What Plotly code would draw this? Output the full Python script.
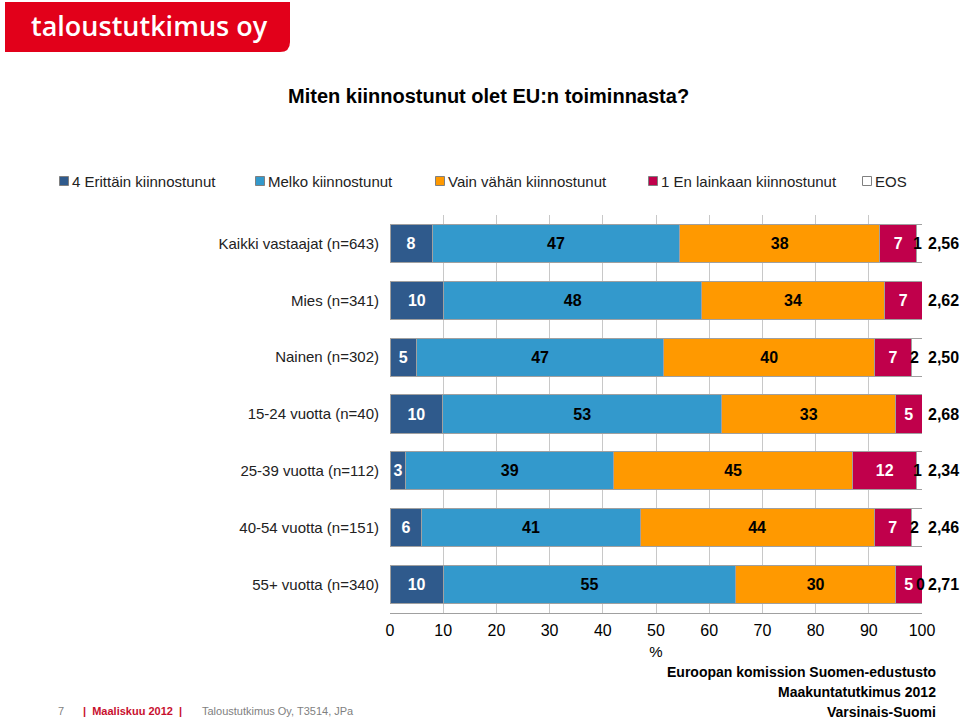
import plotly.graph_objects as go

categories = ["Kaikki vastaajat (n=643)", "Mies (n=341)", "Nainen (n=302)",
              "15-24 vuotta (n=40)", "25-39 vuotta (n=112)", "40-54 vuotta (n=151)",
              "55+ vuotta (n=340)"]
series_names = ["4 Erittäin kiinnostunut", "Melko kiinnostunut", "Vain vähän kiinnostunut",
                "1 En lainkaan kiinnostunut", "EOS"]
erittain = [8, 10, 5, 10, 3, 6, 10]
melko = [47, 48, 47, 53, 39, 41, 55]
vain_vahan = [38, 34, 40, 33, 45, 44, 30]
ei_lainkaan = [7, 7, 7, 5, 12, 7, 5]
eos = [1, None, 2, None, 1, 2, 0]
means = ["2,56", "2,62", "2,50", "2,68", "2,34", "2,46", "2,71"]
x_ticks = [0, 10, 20, 30, 40, 50, 60, 70, 80, 90, 100]

colors = ["#2f5a8c", "#3399cc", "#ff9900", "#c0004b", "#ffffff"]
text_colors = ["white", "black", "black", "white", "black"]
FONT = "Arial, Liberation Sans, sans-serif"

# plot area in pixels
L, R, T, B = 390, 922, 215, 613
W, H = 960, 721


def px(x):
    return (x - L) / (R - L)


def py(y):
    return (B - y) / (B - T)


fig = go.Figure()
all_series = [erittain, melko, vain_vahan, ei_lainkaan, eos]
for i, (name, vals) in enumerate(zip(series_names, all_series)):
    show_text = i < 4
    fig.add_trace(go.Bar(
        name=name, y=categories, x=vals, orientation="h",
        marker=dict(color=colors[i], line=dict(color="#a0a0a0", width=1)),
        text=[str(v) if v is not None else "" for v in vals] if show_text else None,
        texttemplate="<b>%{text}</b>" if show_text else None,
        textposition="inside" if show_text else "none",
        insidetextanchor="middle",
        textfont=dict(family=FONT, size=16, color=text_colors[i]),
        hoverinfo="skip", showlegend=False,
    ))

annotations = []
shapes = []
# EOS labels
for k, cat in enumerate(categories):
    if eos[k] is None:
        continue
    vals = [s[k] or 0 for s in all_series]
    total = sum(vals)
    pos = (sum(vals[:4]) + vals[4] / 2) / total * 100
    annotations.append(dict(x=pos, y=cat, xref="x", yref="y", text="<b>" + str(eos[k]) + "</b>",
                            showarrow=False, xanchor="center", xshift=-2,
                            font=dict(family=FONT, size=16, color="black")))
# mean values
for k, cat in enumerate(categories):
    annotations.append(dict(x=1, y=cat, xref="paper", yref="y", text="<b>" + means[k] + "</b>",
                            showarrow=False, xanchor="left", xshift=4,
                            font=dict(family=FONT, size=16, color="black")))

# legend (drawn manually)
legend_marker_x = [64, 260, 440, 653, 867]
legend_y = 181
for i, name in enumerate(series_names):
    mx = legend_marker_x[i]
    shapes.append(dict(type="rect", xref="paper", yref="paper",
                       x0=px(mx - 4.5), x1=px(mx + 4.5),
                       y0=py(legend_y + 4.5), y1=py(legend_y - 4.5),
                       fillcolor=colors[i], line=dict(color="#808080", width=1)))
    annotations.append(dict(x=px(mx + 6), y=py(legend_y), xref="paper", yref="paper",
                            text=name, showarrow=False, xanchor="left", yanchor="middle",
                            font=dict(family=FONT, size=15, color="#222")))

# title
annotations.append(dict(x=px(488), y=py(96), xref="paper", yref="paper",
                        text="<b>Miten kiinnostunut olet EU:n toiminnasta?</b>",
                        showarrow=False, xanchor="center", yanchor="middle",
                        font=dict(family=FONT, size=20, color="black")))
# logo text
annotations.append(dict(x=px(149), y=py(25), xref="paper", yref="paper",
                        text="taloustutkimus oy", showarrow=False,
                        xanchor="center", yanchor="middle",
                        font=dict(family="Open Sans, sans-serif", size=27, color="white", weight=600)))
# footer
annotations.append(dict(x=px(56), y=py(711), xref="paper", yref="paper", text="7",
                        showarrow=False, xanchor="left", yanchor="middle",
                        font=dict(family=FONT, size=11, color="#7f7f7f")))
annotations.append(dict(x=px(81), y=py(711), xref="paper", yref="paper",
                        text="<b>|  Maaliskuu 2012  |</b>",
                        showarrow=False, xanchor="left", yanchor="middle",
                        font=dict(family=FONT, size=11, color="#c8102e")))
annotations.append(dict(x=px(200), y=py(711), xref="paper", yref="paper",
                        text="Taloustutkimus Oy, T3514, JPa",
                        showarrow=False, xanchor="left", yanchor="middle",
                        font=dict(family=FONT, size=11, color="#7f7f7f")))
# bottom right source
for txt, yy in [("Euroopan komission Suomen-edustusto", 672),
                ("Maakuntatutkimus 2012", 692), ("Varsinais-Suomi", 712)]:
    annotations.append(dict(x=px(938), y=py(yy), xref="paper", yref="paper",
                            text="<b>" + txt + "</b>", showarrow=False,
                            xanchor="right", yanchor="middle",
                            font=dict(family=FONT, size=14, color="black")))

shapes.append(
    dict(type="path", xref="paper", yref="paper", layer="above",
         path=f"M{px(5)},{py(2)} L{px(290)},{py(2)} L{px(290)},{py(42)} "
              f"Q{px(290)},{py(52)} {px(280)},{py(52)} L{px(5)},{py(52)} Z",
         fillcolor="#e2001a", line=dict(width=0)))

fig.update_layout(
    width=W, height=H,
    barmode="stack", barnorm="percent", bargap=0.33,
    margin=dict(l=L, r=W - R, t=T, b=H - B, pad=0),
    paper_bgcolor="white", plot_bgcolor="white",
    font=dict(family=FONT, size=14, color="black"),
    showlegend=False,
    xaxis=dict(range=[0, 100], tickvals=x_ticks, ticktext=[str(v) for v in x_ticks],
               showgrid=True, gridcolor="#c8c8c8", gridwidth=1,
               showline=True, linecolor="#a0a0a0", linewidth=1, mirror=False,
               zeroline=False, ticks="", tickfont=dict(size=16, color="black"),
               ticklabelstandoff=3,
               title=dict(text="%", font=dict(size=15, color="black"), standoff=8),
               fixedrange=True),
    yaxis=dict(categoryorder="array", categoryarray=categories, autorange="reversed",
               showgrid=False, showline=False, zeroline=False, ticks="",
               ticklabelstandoff=10, tickfont=dict(size=15, color="#222"),
               fixedrange=True),
    annotations=annotations,
    shapes=shapes,
    uniformtext=dict(minsize=16, mode="show"),
)

fig.write_html("out.html", config={"displayModeBar": False},
               post_script="document.body.style.margin='0';document.body.style.overflow='hidden';")
